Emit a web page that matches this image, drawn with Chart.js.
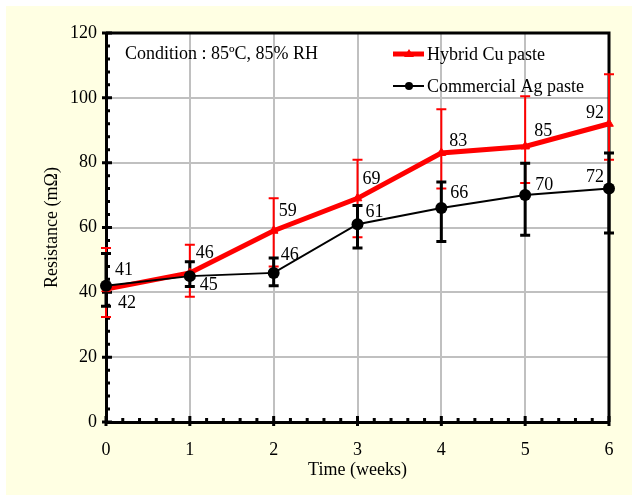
<!DOCTYPE html>
<html>
<head>
<meta charset="utf-8">
<script src="https://cdn.jsdelivr.net/npm/chart.js@4.4.0/dist/chart.umd.min.js"></script>
<style>
    html, body { margin: 0; padding: 0; background: #fff; }
    #wrap { width: 632px; height: 495px; }
</style>
</head>
<body>
<div id="wrap"><canvas id="resChart" width="632" height="495"></canvas></div>
<script>
// ==============================
// DATA
// ==============================
const weeks = [0, 1, 2, 3, 4, 5, 6];
const yTicks = [0, 20, 40, 60, 80, 100, 120];

const cuValues = [41, 46, 59, 69, 83, 85, 92];
const cuHigh = [53.7, 54.7, 69, 80.9, 96.5, 100.5, 107.3];
const cuLow = [32.4, 38.6, 48, 57, 72, 73.7, 80.9];

const agValues = [42, 45, 46, 61, 66, 70, 72];
const agHigh = [52, 49.4, 50.6, 66.8, 74, 79.8, 83];
const agLow = [35.7, 41.8, 42, 53.7, 55.7, 57.6, 58.3];

// label offsets in px (style only)
const cuLabelOffsets = [[18, -19], [15, -20], [14, -19], [14, -19], [17, -12], [18, -15], [-14, -11]];
const agLabelOffsets = [[21, 17], [19, 9], [16, -18], [17, -12], [18, -15], [19, -10], [-14, -11]];

const serif = "'Liberation Serif', 'Times New Roman', serif";
const font = { family: serif, size: 18 };

// ==============================
// PLUGIN: background, error bars, ticks, labels, legend
// ==============================
const chartDecor = {
    id: "chartDecor",
    beforeDraw(chart) {
        const { ctx, chartArea: a } = chart;
        ctx.save();
        ctx.fillStyle = "#fff";
        ctx.fillRect(0, 0, chart.width, chart.height);
        ctx.fillStyle = "#ffffe3";
        ctx.fillRect(6, 6, chart.width - 6, chart.height - 6);
        ctx.fillStyle = "#fff";
        ctx.fillRect(a.left, a.top, a.right - a.left, a.bottom - a.top);
        ctx.restore();
    },
    beforeDatasetsDraw(chart) {
        const { ctx, chartArea: a, scales: { x, y } } = chart;
        ctx.save();

        // top + right border
        ctx.strokeStyle = "#000";
        ctx.lineWidth = 3;
        ctx.beginPath();
        ctx.moveTo(a.left, a.top);
        ctx.lineTo(a.right, a.top);
        ctx.lineTo(a.right, a.bottom);
        ctx.stroke();

        // minor ticks (inside) + major ticks
        ctx.lineWidth = 3;
        ctx.beginPath();
        for (let v = 0; v <= 120; v += 4) {
            const py = y.getPixelForValue(v);
            const major = v % 20 === 0;
            ctx.moveTo(a.left - (major ? 4 : 0), py);
            ctx.lineTo(a.left + (major ? 6 : 4), py);
        }
        for (let i = 0; i <= 30; i++) {
            const v = i / 5;
            const px = x.getPixelForValue(v);
            const major = i % 5 === 0;
            ctx.moveTo(px, a.bottom + (major ? 4 : 0));
            ctx.lineTo(px, a.bottom - (major ? 6 : 4));
        }
        ctx.stroke();

        // error bars
        const drawErr = (hi, lo, color, width) => {
            ctx.strokeStyle = color;
            ctx.lineWidth = width;
            ctx.beginPath();
            weeks.forEach((w, i) => {
                const px = x.getPixelForValue(w);
                const pt = y.getPixelForValue(hi[i]);
                const pb = y.getPixelForValue(lo[i]);
                ctx.moveTo(px, pt);
                ctx.lineTo(px, pb);
                ctx.moveTo(px - 5, pt);
                ctx.lineTo(px + 5, pt);
                ctx.moveTo(px - 5, pb);
                ctx.lineTo(px + 5, pb);
            });
            ctx.stroke();
        };
        drawErr(cuHigh, cuLow, "#ff0000", 2);
        drawErr(agHigh, agLow, "#000", 3);
        ctx.restore();
    },
    afterDatasetsDraw(chart) {
        const { ctx, scales: { x, y } } = chart;
        ctx.save();
        ctx.font = `18px ${serif}`;
        ctx.fillStyle = "#000";
        ctx.textAlign = "center";
        ctx.textBaseline = "middle";

        weeks.forEach((w, i) => {
            const px = x.getPixelForValue(w);
            ctx.fillText(String(cuValues[i]), px + cuLabelOffsets[i][0], y.getPixelForValue(cuValues[i]) + cuLabelOffsets[i][1]);
            ctx.fillText(String(agValues[i]), px + agLabelOffsets[i][0], y.getPixelForValue(agValues[i]) + agLabelOffsets[i][1]);
        });

        // condition note
        ctx.textAlign = "left";
        ctx.fillText("Condition : 85ºC, 85% RH", 125, 54);

        // legend
        const ds = chart.data.datasets;
        const legendRows = [{ d: ds[0], y: 54 }, { d: ds[1], y: 86 }];
        legendRows.forEach((r) => {
            ctx.strokeStyle = r.d.borderColor;
            ctx.lineWidth = r.d.borderWidth;
            ctx.beginPath();
            ctx.moveTo(393, r.y);
            ctx.lineTo(424, r.y);
            ctx.stroke();
            ctx.fillStyle = r.d.borderColor;
            ctx.beginPath();
            if (r.d.pointStyle === "triangle") {
                ctx.moveTo(409, r.y - 5);
                ctx.lineTo(414, r.y + 3);
                ctx.lineTo(404, r.y + 3);
                ctx.closePath();
            } else {
                ctx.arc(409, r.y, 4, 0, Math.PI * 2);
            }
            ctx.fill();
            ctx.fillStyle = "#000";
            ctx.fillText(r.d.label, 427, r.y + 1);
        });
        ctx.restore();
    },
};

// ==============================
// CHART
// ==============================
new Chart(document.getElementById("resChart"), {
    type: "line",
    data: {
        datasets: [
            {
                label: "Hybrid Cu paste",
                data: weeks.map((w, i) => ({ x: w, y: cuValues[i] })),
                borderColor: "#ff0000",
                backgroundColor: "#ff0000",
                borderWidth: 5,
                pointStyle: "triangle",
                pointRadius: 5,
                pointBorderWidth: 1,
                clip: false,
                order: 2,
            },
            {
                label: "Commercial Ag paste",
                data: weeks.map((w, i) => ({ x: w, y: agValues[i] })),
                borderColor: "#000",
                backgroundColor: "#000",
                borderWidth: 2,
                pointStyle: "circle",
                pointRadius: 6,
                pointBorderWidth: 0,
                clip: false,
                order: 1,
            },
        ],
    },
    options: {
        responsive: false,
        animation: false,
        layout: { padding: { left: 41, right: 23, top: 33, bottom: 14 } },
        plugins: { legend: { display: false }, tooltip: { enabled: false } },
        scales: {
            x: {
                type: "linear",
                min: 0,
                max: 6,
                afterBuildTicks: (s) => { s.ticks = weeks.map((v) => ({ value: v })); },
                grid: { color: "#c0c0c0", lineWidth: 2, drawTicks: false },
                border: { color: "#000", width: 3 },
                ticks: { color: "#000", font, padding: 17 },
                title: { display: true, text: "Time (weeks)", color: "#000", font, padding: 0 },
                afterFit: (s) => { s.height = 59; },
            },
            y: {
                min: 0,
                max: 120,
                afterBuildTicks: (s) => { s.ticks = yTicks.map((v) => ({ value: v })); },
                grid: { color: "#c0c0c0", lineWidth: 2, drawTicks: false },
                border: { color: "#000", width: 3 },
                ticks: { color: "#000", font, padding: 9 },
                title: { display: true, text: "Resistance (mΩ)", color: "#000", font, padding: 0 },
                afterFit: (s) => { s.width = 65; },
            },
        },
    },
    plugins: [chartDecor],
});
</script>
</body>
</html>
